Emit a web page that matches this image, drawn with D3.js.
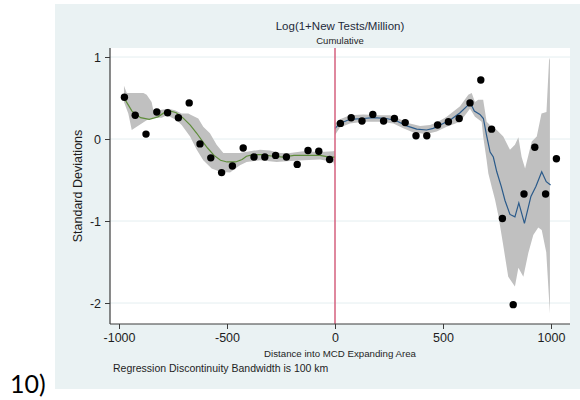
<!DOCTYPE html>
<html>
<head>
<meta charset="utf-8">
<script src="https://cdn.jsdelivr.net/npm/d3@7"></script>
<style>
  html, body { margin: 0; padding: 0; background: #ffffff; }
  svg { display: block; font-family: "Liberation Sans", Arial, sans-serif; }
</style>
</head>
<body>
<svg id="chart" width="580" height="400"></svg>
<script>
// Binned means (50 km bins), standardized outcome
const binDistance = [
  -975, -925, -875, -825, -775, -725, -675, -625, -575, -525,
  -475, -425, -375, -325, -275, -225, -175, -125, -75, -25,
  25, 75, 125, 175, 225, 275, 325, 375, 425, 475,
  525, 575, 625, 675, 725, 775, 825, 875, 925, 975, 1025
];
const binMean = [
  0.51, 0.29, 0.06, 0.33, 0.32, 0.26, 0.44, -0.06, -0.23, -0.41,
  -0.33, -0.11, -0.22, -0.22, -0.20, -0.22, -0.31, -0.14, -0.15, -0.25,
  0.19, 0.26, 0.22, 0.30, 0.22, 0.25, 0.20, 0.04, 0.04, 0.17,
  0.21, 0.25, 0.44, 0.72, 0.12, -0.97, -2.02, -0.67, -0.10, -0.67, -0.24
];

// Local fit below the threshold (outside the expanding area)
const leftFitX = [-972, -940, -900, -860, -820, -785, -760, -735, -705, -670, -640, -610, -590, -560, -530, -500, -460, -430, -410, -380, -330, -290, -240, -190, -130, -70, -25, 0];
const leftFit  = [0.48, 0.34, 0.26, 0.24, 0.27, 0.33, 0.34, 0.32, 0.26, 0.17, 0.07, -0.04, -0.11, -0.20, -0.26, -0.28, -0.28, -0.25, -0.21, -0.19, -0.19, -0.21, -0.22, -0.20, -0.20, -0.20, -0.22, -0.22];

// Confidence band below the threshold
const leftUpperX = [-977, -964, -941, -887, -872, -849, -841, -818, -772, -741, -710, -679, -671, -633, -610, -579, -548, -517, -486, -440, -394, -347, -301, -255, -208, -147, -69, -8, 0];
const leftUpper  = [0.65, 0.56, 0.56, 0.56, 0.54, 0.45, 0.35, 0.35, 0.37, 0.35, 0.31, 0.31, 0.30, 0.25, 0.15, 0.07, -0.07, -0.17, -0.17, -0.17, -0.15, -0.13, -0.14, -0.17, -0.17, -0.15, -0.16, -0.15, -0.14];
const leftLowerX = [-977, -957, -941, -918, -872, -841, -802, -779, -764, -733, -710, -671, -640, -610, -571, -532, -486, -440, -409, -347, -270, -224, -147, -69, -8, 0];
const leftLower  = [0.45, 0.31, 0.11, 0.15, 0.23, 0.26, 0.26, 0.29, 0.27, 0.23, 0.17, 0.03, -0.13, -0.26, -0.36, -0.40, -0.41, -0.32, -0.28, -0.26, -0.28, -0.27, -0.26, -0.25, -0.28, -0.34];

// Local fit above the threshold (inside the expanding area)
const rightFitX = [0, 23, 69, 131, 177, 239, 286, 332, 378, 424, 455, 501, 532, 579, 615, 627, 645, 671, 687, 702, 718, 733, 749, 770, 787, 810, 833, 851, 877, 907, 930, 957, 978, 998];
const rightFit  = [0.13, 0.19, 0.24, 0.25, 0.26, 0.25, 0.22, 0.16, 0.12, 0.11, 0.13, 0.19, 0.23, 0.32, 0.41, 0.44, 0.34, 0.30, 0.25, 0.04, -0.16, -0.22, -0.40, -0.58, -0.75, -0.92, -0.95, -0.78, -1.03, -0.70, -0.58, -0.40, -0.52, -0.56];

// Confidence band above the threshold
const rightUpperX = [0, 23, 69, 131, 208, 255, 301, 347, 394, 440, 471, 517, 579, 617, 633, 648, 663, 686, 702, 725, 749, 779, 810, 833, 849, 864, 880, 911, 934, 956, 979, 991, 995];
const rightUpper  = [0.19, 0.24, 0.29, 0.30, 0.29, 0.29, 0.24, 0.19, 0.16, 0.17, 0.20, 0.27, 0.40, 0.54, 0.56, 0.45, 0.48, 0.48, 0.21, 0.15, 0.11, 0.03, -0.13, -0.07, 0.02, -0.22, -0.36, -0.03, 0.03, 0.31, 0.33, 0.96, 0.99];
const rightLowerX = [0, 23, 69, 131, 208, 270, 316, 363, 424, 471, 517, 579, 625, 648, 679, 686, 702, 710, 725, 741, 756, 779, 802, 833, 849, 872, 895, 918, 941, 957, 978, 995];
const rightLower  = [0.05, 0.14, 0.19, 0.21, 0.21, 0.19, 0.13, 0.08, 0.06, 0.09, 0.15, 0.21, 0.37, 0.27, 0.21, 0.03, -0.26, -0.42, -0.58, -0.74, -0.93, -1.30, -1.68, -1.80, -1.57, -1.68, -1.39, -1.17, -1.08, -1.11, -1.38, -2.13];

// Axis ticks and text
const xTicks = [-1000, -500, 0, 500, 1000];
const yTicks = [1, 0, -1, -2];
const titleText = "Log(1+New Tests/Million)";
const subtitleText = "Cumulative";
const xTitle = "Distance into MCD Expanding Area";
const yTitle = "Standard Deviations";
const noteText = "Regression Discontinuity Bandwidth is 100 km";
const panelLabel = "10)";

const svg = d3.select("#chart");

const plot = { left: 110, right: 570, top: 48, bottom: 324 };

const x = d3.scaleLinear().domain([-1000, 1000]).range([119, 551]);
const y = d3.scaleLinear().domain([-2, 1]).range([303, 57]);

// Plain hyphen for negative tick labels
const tickFmt = d => String(d);

// Graph region background
svg.append("rect")
  .attr("x", 55).attr("y", 4)
  .attr("width", 525).attr("height", 385)
  .attr("fill", "#eaf2f3");

// Plot region
svg.append("rect")
  .attr("x", plot.left).attr("y", plot.top)
  .attr("width", plot.right - plot.left).attr("height", plot.bottom - plot.top)
  .attr("fill", "#ffffff");

// Horizontal grid lines
svg.append("g").selectAll("line")
  .data(yTicks)
  .join("line")
  .attr("x1", plot.left).attr("x2", plot.right)
  .attr("y1", d => y(d)).attr("y2", d => y(d))
  .attr("stroke", "#e4eef0").attr("stroke-width", 1);

// Confidence bands: upper edge left to right, lower edge back
function bandPath(ux, uy, lx, ly) {
  const pts = ux.map((v, i) => [x(v), y(uy[i])])
    .concat(lx.map((v, i) => [x(v), y(ly[i])]).reverse());
  return d3.line()(pts) + "Z";
}
svg.append("path")
  .attr("d", bandPath(leftUpperX, leftUpper, leftLowerX, leftLower))
  .attr("fill", "#c0c0c0");
svg.append("path")
  .attr("d", bandPath(rightUpperX, rightUpper, rightLowerX, rightLower))
  .attr("fill", "#c0c0c0");

// Fitted lines
const fitLine = d3.line().x(d => x(d[0])).y(d => y(d[1]));
svg.append("path")
  .attr("d", fitLine(leftFitX.map((v, i) => [v, leftFit[i]])))
  .attr("fill", "none").attr("stroke", "#5e8c3a").attr("stroke-width", 1.2);
svg.append("path")
  .attr("d", fitLine(rightFitX.map((v, i) => [v, rightFit[i]])))
  .attr("fill", "none").attr("stroke", "#2a5a8a").attr("stroke-width", 1.2);

// Threshold line
svg.append("line")
  .attr("x1", x(0)).attr("x2", x(0))
  .attr("y1", plot.top).attr("y2", plot.bottom)
  .attr("stroke", "#d4607e").attr("stroke-width", 1.5);

// Binned means
svg.append("g").selectAll("circle")
  .data(binDistance.map((v, i) => [v, binMean[i]]))
  .join("circle")
  .attr("cx", d => x(d[0])).attr("cy", d => y(d[1]))
  .attr("r", 3.7)
  .attr("fill", "#000000");

// Axes
const yAxis = d3.axisLeft(y).tickValues(yTicks).tickSize(5).tickPadding(4).tickFormat(tickFmt);
const gy = svg.append("g").attr("transform", `translate(${plot.left},0)`).call(yAxis);
gy.select(".domain").attr("d", `M0,${plot.top}V${plot.bottom}`);

const xAxis = d3.axisBottom(x).tickValues(xTicks).tickSize(5).tickPadding(4).tickFormat(tickFmt);
const gx = svg.append("g").attr("transform", `translate(0,${plot.bottom})`).call(xAxis);
gx.select(".domain").attr("d", `M${plot.left},0H${plot.right}`);

[gx, gy].forEach(g => {
  g.select(".domain").attr("stroke", "#3c3c3c").attr("stroke-width", 1.2);
  g.selectAll(".tick line").attr("stroke", "#3c3c3c");
  g.selectAll(".tick text")
    .attr("fill", "#1e1e1e")
    .style("font-family", "'Liberation Sans', Arial, sans-serif")
    .style("font-size", "12.5px");
});
gy.selectAll(".tick text").attr("dy", "0.35em");

// Titles and notes
svg.append("text")
  .attr("x", 340).attr("y", 30)
  .attr("text-anchor", "middle")
  .attr("fill", "#1e2a3a")
  .style("font-size", "11.5px")
  .text(titleText);
svg.append("text")
  .attr("x", 340).attr("y", 44)
  .attr("text-anchor", "middle")
  .attr("fill", "#1e1e1e")
  .style("font-size", "9.5px")
  .text(subtitleText);
svg.append("text")
  .attr("x", 340).attr("y", 357)
  .attr("text-anchor", "middle")
  .attr("fill", "#1e1e1e")
  .style("font-size", "9.7px")
  .text(xTitle);
svg.append("text")
  .attr("transform", `translate(82,186) rotate(-90)`)
  .attr("text-anchor", "middle")
  .attr("fill", "#1e1e1e")
  .style("font-size", "12.5px")
  .text(yTitle);
svg.append("text")
  .attr("x", 113).attr("y", 372)
  .attr("fill", "#1e1e1e")
  .style("font-size", "10.5px")
  .text(noteText);
svg.append("text")
  .attr("x", 10).attr("y", 393)
  .attr("fill", "#000000")
  .style("font-family", "Lato, 'Open Sans', sans-serif")
  .style("font-size", "25px")
  .text(panelLabel);
</script>
</body>
</html>
